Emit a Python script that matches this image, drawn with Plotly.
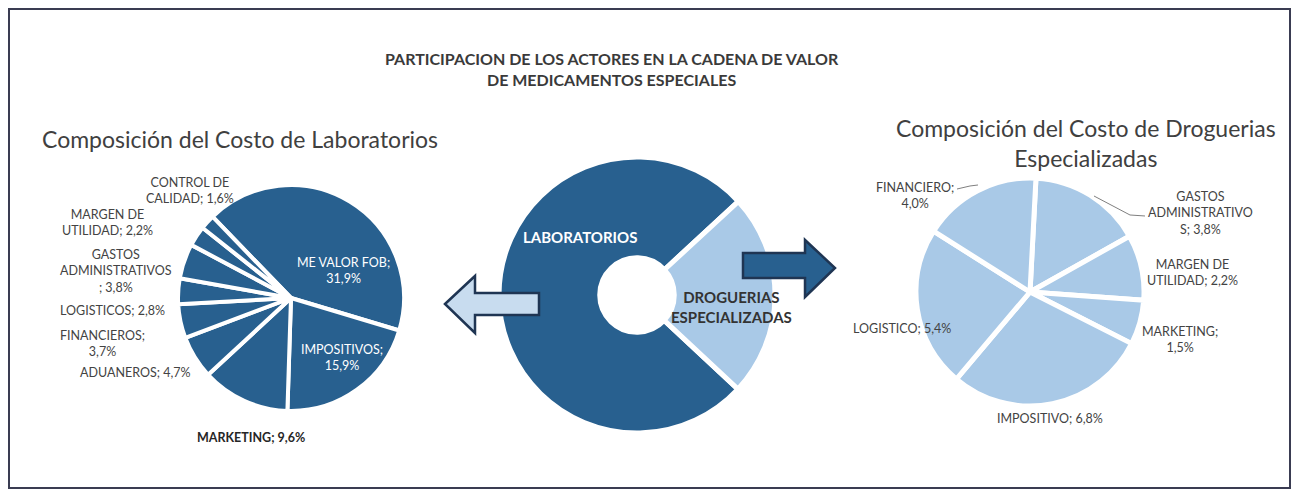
import plotly.graph_objects as go

# page body has an 8px margin: the figure sits at (8,8) in the window
OFF = 8
W, H = 1284, 481

# ---------------- data ----------------
lab_labels = ["ME VALOR FOB", "IMPOSITIVOS", "MARKETING", "ADUANEROS", "FINANCIEROS",
              "LOGISTICOS", "GASTOS ADMINISTRATIVOS", "MARGEN DE UTILIDAD", "CONTROL DE CALIDAD"]
lab_values = [31.9, 15.9, 9.6, 4.7, 3.7, 2.8, 3.8, 2.2, 1.6]

mid_labels = ["LABORATORIOS", "DROGUERIAS ESPECIALIZADAS"]
mid_values = [76.2, 23.8]

dro_labels = ["GASTOS ADMINISTRATIVOS", "MARGEN DE UTILIDAD", "MARKETING", "IMPOSITIVO",
              "LOGISTICO", "FINANCIERO"]
dro_values = [3.8, 2.2, 1.5, 6.8, 5.4, 4.0]

DARK = "#28608f"
LIGHT = "#a9c9e7"
TXT = "#434343"
FONT = "Lato"


def pct(v):
    return f"{v:.1f}%".replace(".", ",")


def px(x, y):
    return (x - OFF) / W, 1 - (y - OFF) / H


def dom(cx, cy, r):
    x0, y1 = px(cx - r, cy - r)
    x1, y0 = px(cx + r, cy + r)
    return dict(x=[x0, x1], y=[y0, y1])


fig = go.Figure()

fig.add_trace(go.Pie(
    labels=lab_labels, values=lab_values, sort=False, direction="clockwise", rotation=-44,
    domain=dom(291, 298, 113), textinfo="none",
    marker=dict(colors=[DARK] * len(lab_values), line=dict(color="white", width=4)),
    showlegend=False, name="Laboratorios"))

fig.add_trace(go.Pie(
    labels=mid_labels, values=mid_values, sort=False, direction="clockwise", rotation=133,
    hole=0.27, domain=dom(637, 295, 138), textinfo="none",
    marker=dict(colors=[DARK, LIGHT], line=dict(color="white", width=5)),
    showlegend=False, name="Cadena"))

fig.add_trace(go.Pie(
    labels=dro_labels, values=dro_values, sort=False, direction="clockwise", rotation=3,
    domain=dom(1030, 292, 114), textinfo="none",
    marker=dict(colors=[LIGHT] * len(dro_values), line=dict(color="white", width=5)),
    showlegend=False, name="Droguerias"))

ann = []


def add(text, x, y, size=12.5, color=TXT, bold=False, align="center", xanchor="center"):
    xx, yy = px(x, y)
    if bold:
        text = f"<b>{text}</b>"
    ann.append(dict(text=text, x=xx, y=yy, xref="paper", yref="paper", showarrow=False,
                    xanchor=xanchor, yanchor="middle", align=align,
                    font=dict(family=FONT, size=size, color=color)))


L = dict(zip(lab_labels, lab_values))
D = dict(zip(dro_labels, dro_values))

# main title
add("PARTICIPACION DE LOS ACTORES EN LA CADENA DE VALOR<br>DE MEDICAMENTOS ESPECIALES",
    612, 69, size=16, color="#3a3a3a", bold=True)
# sub titles
add("Composición del Costo de Laboratorios", 240, 139, size=23, color="#404040")
add("Composición del Costo de Droguerias<br>Especializadas", 1086, 143, size=23, color="#404040")

# left pie labels
add(f"ME VALOR FOB;<br>{pct(L['ME VALOR FOB'])}", 344, 270, color="white")
add(f"IMPOSITIVOS;<br>{pct(L['IMPOSITIVOS'])}", 342, 357, color="white")
add(f"MARKETING; {pct(L['MARKETING'])}", 251, 437, color="#262626", bold=True)
add(f"ADUANEROS; {pct(L['ADUANEROS'])}", 135, 372)
add(f"FINANCIEROS;<br>{pct(L['FINANCIEROS'])}", 103, 343)
add(f"LOGISTICOS; {pct(L['LOGISTICOS'])}", 112, 310)
add(f"GASTOS<br>ADMINISTRATIVOS<br>; {pct(L['GASTOS ADMINISTRATIVOS'])}", 116, 271)
add(f"MARGEN DE<br>UTILIDAD; {pct(L['MARGEN DE UTILIDAD'])}", 107, 222)
add(f"CONTROL DE<br>CALIDAD; {pct(L['CONTROL DE CALIDAD'])}", 190, 190)

# middle labels
add(mid_labels[0], 580, 237, size=15, color="white", bold=True)
add("DROGUERIAS<br>ESPECIALIZADAS", 731, 307, size=15, color="#333333", bold=True)

# right pie labels
add(f"FINANCIERO;<br>{pct(D['FINANCIERO'])}", 915, 195)
add(f"GASTOS<br>ADMINISTRATIVO<br>S; {pct(D['GASTOS ADMINISTRATIVOS'])}", 1200, 213)
add(f"MARGEN DE<br>UTILIDAD; {pct(D['MARGEN DE UTILIDAD'])}", 1192, 272)
add(f"MARKETING;<br>{pct(D['MARKETING'])}", 1180, 339)
add(f"IMPOSITIVO; {pct(D['IMPOSITIVO'])}", 1050, 418)
add(f"LOGISTICO; {pct(D['LOGISTICO'])}", 902, 328)

shapes = []


def path_px(pts, close=True):
    s = ""
    for i, (x, y) in enumerate(pts):
        xx, yy = px(x, y)
        s += ("M" if i == 0 else "L") + f"{xx:.5f},{yy:.5f} "
    return s + ("Z" if close else "")


# frame
fx0, fy1 = px(9, 9)
fx1, fy0 = px(1290, 488)
shapes.append(dict(type="rect", xref="paper", yref="paper",
                   x0=fx0, x1=fx1, y0=fy0, y1=fy1,
                   line=dict(color="#3a3c52", width=2), fillcolor="rgba(0,0,0,0)", layer="below"))
# left arrow
shapes.append(dict(type="path", xref="paper", yref="paper",
                   path=path_px([(445, 304), (475, 276), (475, 293), (539, 293), (539, 315),
                                 (475, 315), (475, 333)]),
                   fillcolor="#c8dcef", line=dict(color="#1f3553", width=2.5)))
# right arrow
shapes.append(dict(type="path", xref="paper", yref="paper",
                   path=path_px([(743, 253), (805, 253), (805, 240), (835, 268), (805, 297),
                                 (805, 278), (743, 278)]),
                   fillcolor=DARK, line=dict(color="#1f3553", width=2.5)))
# leader lines (right pie)
shapes.append(dict(type="path", xref="paper", yref="paper",
                   path=path_px([(957, 189), (970, 186), (978, 185)], close=False),
                   line=dict(color="#7f7f7f", width=1)))
shapes.append(dict(type="path", xref="paper", yref="paper",
                   path=path_px([(1094, 196), (1130, 215), (1145, 216)], close=False),
                   line=dict(color="#7f7f7f", width=1)))

fig.update_layout(width=W, height=H, margin=dict(l=0, r=0, t=0, b=0),
                  paper_bgcolor="white", plot_bgcolor="white",
                  annotations=ann, shapes=shapes, showlegend=False,
                  font=dict(family=FONT))

fig.write_html("out.html")
